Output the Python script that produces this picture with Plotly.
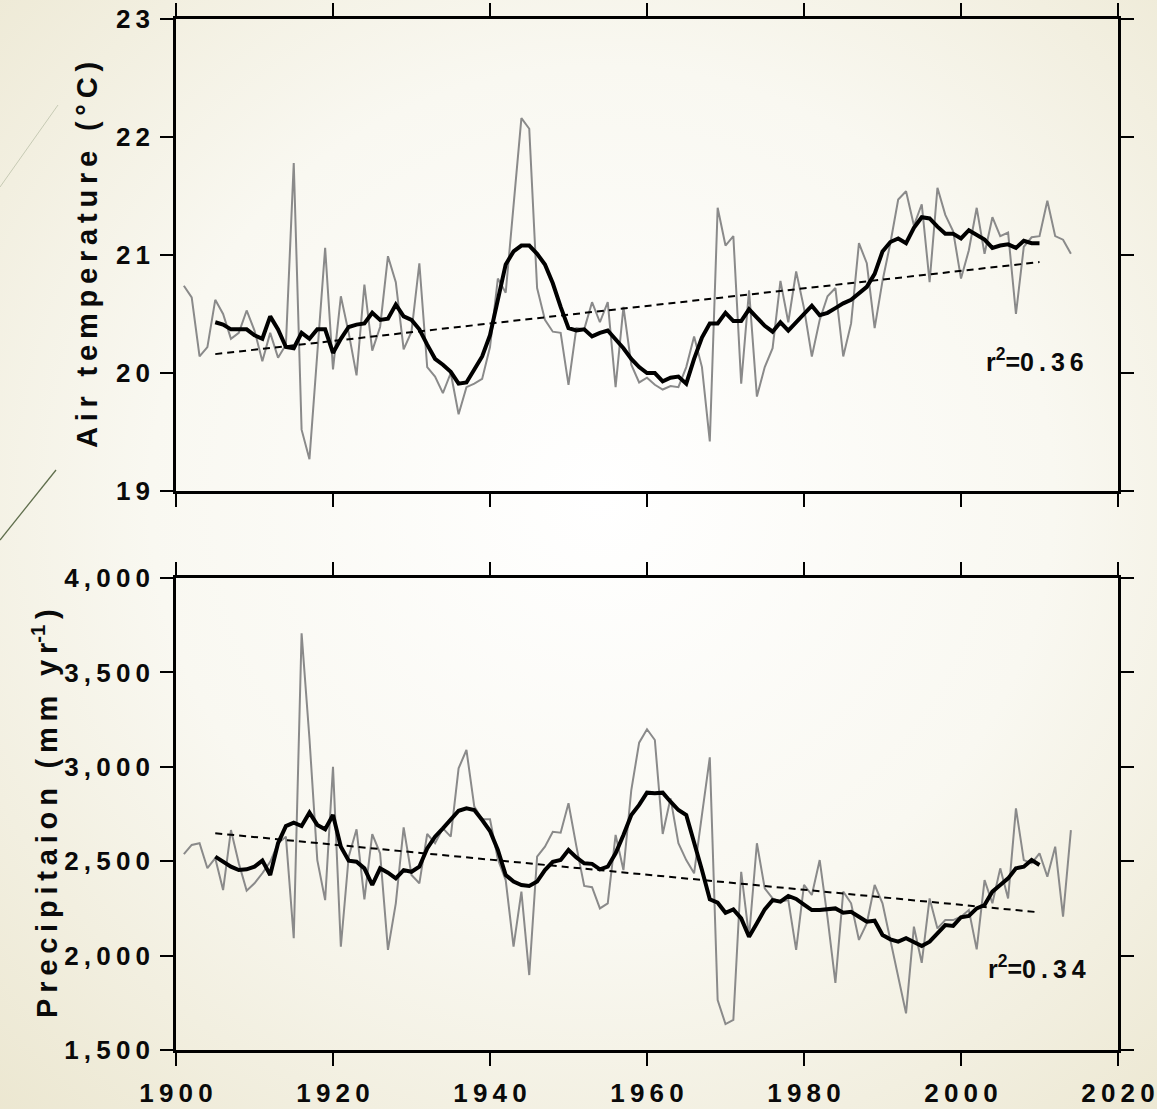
import base64
import plotly.graph_objects as go

# ---------------- data ----------------
years_raw = list(range(1901, 2015))
temp_raw = [
    20.74, 20.64, 20.14, 20.22, 20.62, 20.50, 20.29, 20.34, 20.53, 20.36,
    20.10, 20.34, 20.13, 20.24, 21.78, 19.52, 19.27, 20.20, 21.06, 20.03,
    20.65, 20.34, 19.98, 20.75, 20.19, 20.39, 20.99, 20.77, 20.20, 20.35,
    20.93, 20.05, 19.97, 19.83, 20.00, 19.65, 19.88, 19.91, 19.95, 20.22,
    20.80, 20.68, 21.45, 22.16, 22.07, 20.72, 20.45, 20.35, 20.34, 19.90,
    20.38, 20.37, 20.60, 20.43, 20.60, 19.88, 20.56, 20.07, 19.92, 19.96,
    19.90, 19.86, 19.89, 19.88, 20.05, 20.31, 20.05, 19.42, 21.40, 21.08,
    21.16, 19.91, 20.70, 19.80, 20.05, 20.21, 20.78, 20.43, 20.86, 20.55,
    20.14, 20.45, 20.65, 20.72, 20.14, 20.42, 21.10, 20.93, 20.38, 20.78,
    21.10, 21.47, 21.54, 21.25, 21.43, 20.77, 21.57, 21.34, 21.20, 20.80,
    21.04, 21.40, 21.01, 21.32, 21.16, 21.19, 20.50, 21.07, 21.15, 21.16,
    21.46, 21.16, 21.13, 21.01,
]
years_smooth = list(range(1905, 2011))
temp_smooth = [
    20.43, 20.41, 20.37, 20.37, 20.37, 20.32, 20.29, 20.48, 20.37, 20.22,
    20.21, 20.34, 20.29, 20.37, 20.37, 20.17, 20.29, 20.39, 20.41, 20.42,
    20.51, 20.45, 20.46, 20.58, 20.48, 20.45, 20.37, 20.24, 20.12, 20.07,
    20.01, 19.91, 19.92, 20.03, 20.14, 20.32, 20.62, 20.92, 21.03, 21.08,
    21.08, 21.01, 20.92, 20.76, 20.56, 20.38, 20.36, 20.37, 20.31, 20.34,
    20.36, 20.29, 20.21, 20.12, 20.05, 20.00, 20.00, 19.93, 19.96, 19.97,
    19.91, 20.12, 20.30, 20.42, 20.42, 20.51, 20.44, 20.44, 20.54, 20.47,
    20.40, 20.35, 20.43, 20.36, 20.43, 20.51, 20.57, 20.49, 20.51, 20.55,
    20.59, 20.62, 20.68, 20.73, 20.84, 21.03, 21.11, 21.14, 21.10, 21.23,
    21.32, 21.31, 21.24, 21.18, 21.18, 21.14, 21.21, 21.17, 21.13, 21.06,
    21.08, 21.09, 21.06, 21.12, 21.10, 21.10,
]
trend_years = [1905, 2010]
temp_trend = [20.16, 20.94]

precip_raw = [
    2538, 2586, 2595, 2463, 2516, 2347, 2665, 2489, 2344, 2383,
    2436, 2497, 2595, 2630, 2092, 3707, 3150, 2506, 2294, 3000,
    2047, 2524, 2669, 2298, 2644, 2542, 2030, 2277, 2679, 2427,
    2383, 2644, 2595, 2674, 2630, 2992, 3089, 2789, 2722, 2722,
    2510, 2400, 2047, 2339, 1897, 2524, 2577, 2656, 2651, 2807,
    2580, 2369, 2362, 2250, 2277, 2639, 2453, 2877, 3128, 3199,
    3142, 2644, 2833, 2595, 2506, 2436, 2745, 3050, 1765, 1637,
    1659, 2444, 2100, 2595, 2356, 2303, 2286, 2294, 2030, 2374,
    2321, 2506, 2200, 1856, 2339, 2277, 2083, 2171, 2374, 2277,
    2083, 1888, 1694, 2153, 1962, 2303, 2144, 2188, 2188, 2206,
    2241, 2033, 2400, 2277, 2462, 2303, 2780, 2506, 2489, 2542,
    2418, 2577, 2206, 2665,
]
precip_smooth = [
    2524, 2497, 2471, 2453, 2457, 2471, 2503, 2427, 2595, 2686,
    2704, 2686, 2757, 2692, 2669, 2745, 2577, 2503, 2497, 2462,
    2374, 2462, 2439, 2409, 2453, 2444, 2471, 2568, 2630, 2674,
    2722, 2767, 2780, 2771, 2718, 2660, 2560, 2427, 2392, 2374,
    2369, 2392, 2453, 2497, 2506, 2559, 2520, 2489, 2486, 2457,
    2471, 2542, 2639, 2745, 2798, 2863, 2860, 2863, 2815, 2771,
    2745, 2603, 2453, 2298, 2280, 2227, 2245, 2197, 2100, 2171,
    2245, 2294, 2286, 2316, 2300, 2270, 2241, 2241, 2245, 2250,
    2227, 2232, 2206, 2180, 2185, 2109, 2086, 2074, 2092, 2074,
    2051, 2074, 2118, 2162, 2157, 2203, 2210, 2250, 2268, 2339,
    2374, 2409, 2462, 2471, 2506, 2480,
]
precip_trend = [2648, 2229]

temp_ticks = [19, 20, 21, 22, 23]
precip_ticks = [1500, 2000, 2500, 3000, 3500, 4000]
year_ticks = [1900, 1920, 1940, 1960, 1980, 2000, 2020]

temp_r2 = "0.36"
precip_r2 = "0.34"
temp_title = "Air temperature (°C)"
precip_title = "Precipitaion (mm yr"

# ---------------- helpers ----------------
TS = "\u2009"  # thin space for letter spacing


def spaced(s):
    return TS.join(list(s))


FONT = "Liberation Sans, Arial, Helvetica, sans-serif"
GRAY = "#8a8a8a"

W, H = 1157, 1109
ML, MR, MT, MB = 176, 39, 19, 59
PW, PH = W - ML - MR, H - MT - MB
panel_h = 472 / PH

# background (radial gradient + decorative lines)
svg = f"""<svg xmlns='http://www.w3.org/2000/svg' width='{W}' height='{H}' viewBox='0 0 {W} {H}' preserveAspectRatio='none'>
<defs><radialGradient id='g' cx='0.52' cy='0.45' r='0.78'>
<stop offset='0' stop-color='#ffffff'/>
<stop offset='0.5' stop-color='#f9f8f1'/>
<stop offset='1' stop-color='#ebe6cf'/>
</radialGradient></defs>
<rect width='{W}' height='{H}' fill='url(#g)'/>
<line x1='0' y1='187' x2='58' y2='105' stroke='#c6cab4' stroke-width='1'/>
<line x1='0' y1='540' x2='56' y2='470' stroke='#5f6e4c' stroke-width='1.3'/>
</svg>"""
bg_uri = "data:image/svg+xml;base64," + base64.b64encode(svg.encode("utf-8")).decode("ascii")

fig = go.Figure()

# top panel
fig.add_trace(go.Scatter(x=years_raw, y=temp_raw, mode="lines",
                         line=dict(color=GRAY, width=2), xaxis="x", yaxis="y",
                         showlegend=False, hoverinfo="skip"))
fig.add_trace(go.Scatter(x=years_smooth, y=temp_smooth, mode="lines",
                         line=dict(color="black", width=4), xaxis="x", yaxis="y",
                         showlegend=False, hoverinfo="skip"))
fig.add_trace(go.Scatter(x=trend_years, y=temp_trend, mode="lines",
                         line=dict(color="black", width=2, dash="7px,5px"),
                         xaxis="x", yaxis="y", showlegend=False, hoverinfo="skip"))

# bottom panel
fig.add_trace(go.Scatter(x=years_raw, y=precip_raw, mode="lines",
                         line=dict(color=GRAY, width=2), xaxis="x2", yaxis="y2",
                         showlegend=False, hoverinfo="skip"))
fig.add_trace(go.Scatter(x=years_smooth, y=precip_smooth, mode="lines",
                         line=dict(color="black", width=4), xaxis="x2", yaxis="y2",
                         showlegend=False, hoverinfo="skip"))
fig.add_trace(go.Scatter(x=trend_years, y=precip_trend, mode="lines",
                         line=dict(color="black", width=2, dash="7px,5px"),
                         xaxis="x2", yaxis="y2", showlegend=False, hoverinfo="skip"))

axis_common = dict(showline=True, linecolor="black", linewidth=2.5, mirror="ticks",
                   ticks="outside", ticklen=13, tickwidth=2, tickcolor="black",
                   showgrid=False, zeroline=False, automargin=False,
                   tickfont=dict(family=FONT, size=26, color="#0a0a0a", weight="bold"))

fig.update_layout(
    width=W, height=H,
    margin=dict(l=ML, r=MR, t=MT, b=MB, autoexpand=False),
    paper_bgcolor="#f4f1e4",
    plot_bgcolor="rgba(0,0,0,0)",
    images=[dict(source=bg_uri, xref="paper", yref="paper",
                 x=-ML / PW, y=1 + MT / PH, sizex=W / PW, sizey=H / PH,
                 xanchor="left", yanchor="top", sizing="stretch", layer="below")],
    xaxis=dict(domain=[0, 1], anchor="y", range=[1900, 2020],
               tickvals=year_ticks, showticklabels=False, **axis_common),
    yaxis=dict(domain=[1 - panel_h, 1], anchor="x", range=[19, 23],
               tickvals=temp_ticks, ticktext=[spaced(str(v)) for v in temp_ticks],
               ticklabelstandoff=5, **axis_common),
    xaxis2=dict(domain=[0, 1], anchor="y2", range=[1900, 2020],
                tickvals=year_ticks, ticktext=[spaced(str(v)) for v in year_ticks],
                ticklabelstandoff=5, **axis_common),
    yaxis2=dict(domain=[0, panel_h], anchor="x2", range=[1500, 4000],
                tickvals=precip_ticks, ticktext=[spaced(f"{v:,}") for v in precip_ticks],
                ticklabelstandoff=5, **axis_common),
)

title_font = dict(family=FONT, size=29, color="#0a0a0a", weight="bold")
r2_font = dict(family=FONT, size=25, color="#0a0a0a", weight="bold")

fig.add_annotation(text=spaced(temp_title), textangle=-90, xref="paper", yref="paper",
                   x=0, xshift=87 - ML, y=1 - panel_h / 2, xanchor="center",
                   yanchor="middle", showarrow=False, font=title_font)
fig.add_annotation(text=spaced(precip_title) + "<sup>-1</sup>" + TS + ")", textangle=-90,
                   xref="paper", yref="paper", x=0, xshift=45 - ML, y=panel_h / 2,
                   xanchor="center", yanchor="middle", showarrow=False, font=title_font)

fig.add_annotation(text="r<sup>2</sup>=" + spaced(temp_r2), xref="x", yref="y",
                   x=2009.4, y=20.11, xanchor="center", yanchor="middle",
                   showarrow=False, font=r2_font)
fig.add_annotation(text="r<sup>2</sup>=" + spaced(precip_r2), xref="x2", yref="y2",
                   x=2009.7, y=1940, xanchor="center", yanchor="middle",
                   showarrow=False, font=r2_font)

fig.write_html("out.html")
